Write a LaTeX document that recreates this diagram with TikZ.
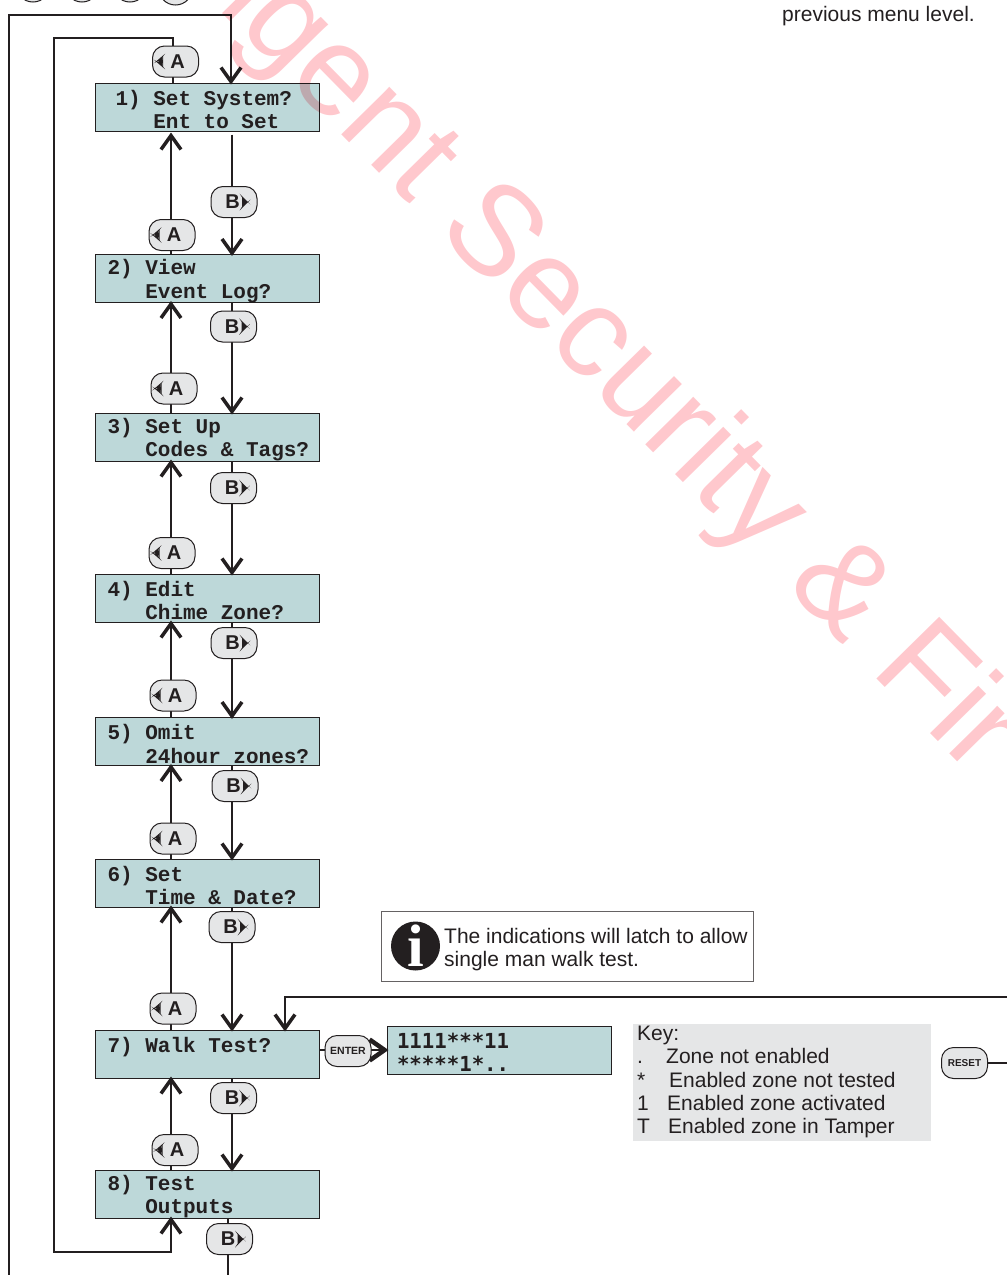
\documentclass[tikz,border=0pt]{standalone}
\usepackage{fontspec}
\setmainfont{Liberation Sans}
\newfontfamily\lcdfont{Liberation Mono}
\newfontfamily\readfont{DejaVu Sans Mono}
\usetikzlibrary{arrows.meta}
\definecolor{ink}{HTML}{231F20}
\definecolor{lcdblue}{HTML}{BDD8D9}
\definecolor{keygrey}{HTML}{E5E6E7}
\definecolor{markpink}{HTML}{FFC8CD}
\newcommand{\gap}{\hspace*{12.6pt}}
\tikzset{
    lcdbox/.style={draw=ink,fill=lcdblue,line width=1pt,inner xsep=12pt,inner ysep=0pt,text width=200pt,minimum height=48pt,align=left,text=ink,font=\lcdfont\bfseries\fontsize{21}{23.5}\selectfont,execute at begin node={\rule{0pt}{20pt}}},
    keybox/.style={draw=ink,fill=keygrey,line width=1pt,rounded corners=12pt,minimum width=46pt,minimum height=31pt,inner sep=0pt,text=ink},
    keya/.style={keybox,font=\bfseries\fontsize{20}{20}\selectfont,path picture={\fill[ink] ([xshift=-19.5pt]path picture bounding box.center) -- ++(7,-6) -- ++(0,12) -- cycle;}},
    keyb/.style={keybox,font=\bfseries\fontsize{20}{20}\selectfont,path picture={\fill[ink] ([xshift=14pt]path picture bounding box.center) -- ++(-6,-6) -- ++(0,12) -- cycle;}},
    keysmall/.style={keybox,font=\bfseries\fontsize{10.5}{10.5}\selectfont},
    flow/.style={draw=ink,line width=2pt,shorten >=-2pt,-{Straight Barb[length=14pt,width=20pt,line width=3.5pt]}},
    wire/.style={draw=ink,line width=2pt},
    plain/.style={text=ink,font=\fontsize{21}{23.3}\selectfont,inner sep=0pt,align=left}
}
\begin{document}
\begin{tikzpicture}[x=1pt,y=-1pt]
    \useasboundingbox (0,0) rectangle (1007,1275);
    \clip (0,0) rectangle (1007,1275);
    % columns of the up and down arrows
    \coordinate (upx) at (171,0);
    \coordinate (downx) at (232,0);
    % free ends at the page edge
    \coordinate (outerend) at (9,1280);
    \coordinate (outerleft) at (9,15);
    \coordinate (outerright) at (231,15);
    \coordinate (innerleft) at (54,38);
    \coordinate (innertop) at (172.5,38);
    \coordinate (innerlow) at (54,1252);
    \coordinate (resetend) at (1012,1063);
    \coordinate (walkfar) at (1012,997);
    \coordinate (walkin) at (285,997);
    \coordinate (lastend) at (227.5,1280);
    % top row of round keys
    \node[draw=ink,fill=keygrey,line width=1pt,circle,minimum size=34pt] (topa) at (33,-15) {};
    \node[draw=ink,fill=keygrey,line width=1pt,circle,minimum size=34pt] (topb) at (82,-15) {};
    \node[draw=ink,fill=keygrey,line width=1pt,circle,minimum size=34pt] (topc) at (130,-15) {};
    \node[draw=ink,fill=keygrey,line width=1pt,circle,minimum size=34pt] (topd) at (175.5,-12) {};
    % displays
    \node[lcdbox] (lcdOne) at (207.5,107) {\hspace*{8pt}1)\gap Set\gap System?\\\hspace*{8pt}\gap\gap\gap Ent\gap to\gap Set};
    \node[lcdbox] (lcdTwo) at (207.5,278.5) {2)\gap View\\\gap\gap\gap Event\gap Log?};
    \node[lcdbox] (lcdThree) at (207.5,437) {3)\gap Set\gap Up\\\gap\gap\gap Codes\gap\&\gap Tags?};
    \node[lcdbox] (lcdFour) at (207.5,598) {4)\gap Edit\\\gap\gap\gap Chime\gap Zone?};
    \node[lcdbox] (lcdFive) at (207.5,741.5) {5)\gap Omit\\\gap\gap\gap 24hour\gap zones?};
    \node[lcdbox] (lcdSix) at (207.5,883) {6)\gap Set\\\gap\gap\gap Time\gap\&\gap Date?};
    \node[lcdbox] (lcdSeven) at (207.5,1054) {7)\gap Walk\gap Test?\\~};
    \node[lcdbox] (lcdEight) at (207.5,1194) {8)\gap Test\\\gap\gap\gap Outputs};
    \node[lcdbox,font=\readfont\bfseries\fontsize{20.7}{23.5}\selectfont,inner xsep=10pt,text width=204pt] (lcdWalk) at (499,1050) {1111***11\\{}*****1*..};
    % arrows between displays
    \draw[flow,shorten <=3pt] (lcdOne.south -| downx) -- (lcdTwo.north -| downx);
    \draw[flow] (lcdTwo.south -| downx) -- (lcdThree.north -| downx);
    \draw[flow] (lcdThree.south -| downx) -- (lcdFour.north -| downx);
    \draw[flow] (lcdFour.south -| downx) -- (lcdFive.north -| downx);
    \draw[flow] (lcdFive.south -| downx) -- (lcdSix.north -| downx);
    \draw[flow] (lcdSix.south -| downx) -- (lcdSeven.north -| downx);
    \draw[flow] (lcdSeven.south -| downx) -- (lcdEight.north -| downx);
    \draw[flow,shorten >=1pt] (lcdTwo.north -| upx) -- (lcdOne.south -| upx);
    \draw[flow] (lcdThree.north -| upx) -- (lcdTwo.south -| upx);
    \draw[flow] (lcdFour.north -| upx) -- (lcdThree.south -| upx);
    \draw[flow] (lcdFive.north -| upx) -- (lcdFour.south -| upx);
    \draw[flow] (lcdSix.north -| upx) -- (lcdFive.south -| upx);
    \draw[flow] (lcdSeven.north -| upx) -- (lcdSix.south -| upx);
    \draw[flow] (lcdEight.north -| upx) -- (lcdSeven.south -| upx);
    % the two long loops
    \draw[flow] (outerend) -- (outerleft) -- (outerright) -- (lcdOne.north -| outerright);
    \draw[flow] (lcdOne.north -| innertop) -- (innertop) -- (innerleft) -- (innerlow) -- (innerlow -| upx) -- (lcdEight.south -| upx);
    \draw[wire] (lcdEight.south -| lastend) -- (lastend);
    \draw[flow] (walkfar) -- (walkin) -- (lcdSeven.north -| walkin);
    % keys on the arrows
    \node[keya] (keyAOne) at (175.5,61.5) {\hspace*{4pt}A};
    \node[keya] (keyATwo) at (172,235) {\hspace*{4pt}A};
    \node[keya] (keyAThree) at (174,388.5) {\hspace*{4pt}A};
    \node[keya] (keyAFour) at (172,553) {\hspace*{4pt}A};
    \node[keya] (keyAFive) at (173,695.5) {\hspace*{4pt}A};
    \node[keya] (keyASix) at (173,838.5) {\hspace*{4pt}A};
    \node[keya] (keyASeven) at (173,1008.5) {\hspace*{4pt}A};
    \node[keya] (keyAEight) at (175,1150) {\hspace*{4pt}A};
    \node[keyb] (keyBOne) at (234,202) {B\hspace*{3pt}};
    \node[keyb] (keyBTwo) at (233.5,326.5) {B\hspace*{3pt}};
    \node[keyb] (keyBThree) at (233.5,488) {B\hspace*{3pt}};
    \node[keyb] (keyBFour) at (234,643) {B\hspace*{3pt}};
    \node[keyb] (keyBFive) at (235,786) {B\hspace*{3pt}};
    \node[keyb] (keyBSix) at (232,927) {B\hspace*{3pt}};
    \node[keyb] (keyBSeven) at (233.5,1098) {B\hspace*{3pt}};
    \node[keyb] (keyBEight) at (229.5,1239) {B\hspace*{3pt}};
    % enter and reset
    \draw[flow,-{Straight Barb[length=15pt,width=21pt,line width=4.5pt]}] (lcdSeven.east |- lcdWalk) -- (lcdWalk.west);
    \node[keysmall] (keyEnter) at (348,1051) {ENTER};
    \node[keysmall,font=\bfseries\fontsize{10}{10}\selectfont] (keyReset) at (964.5,1063) {RESET};
    \draw[wire] (keyReset.east) -- (resetend);
    % note and key
    \node[draw=ink!70,line width=1pt,minimum width=372pt,minimum height=70pt,inner sep=0pt] (notebox) at (567,946) {};
    \node[circle,fill=ink,minimum size=49pt,inner sep=0pt,text=white,font=\fontspec{Liberation Serif}\bfseries\fontsize{60}{60}\selectfont] (noteicon) at (415.5,946) {i};
    \node[plain,anchor=west] (notetext) at (444,949.5) {The indications will latch to allow\\single man walk test.};
    \node[fill=keygrey,minimum width=298pt,minimum height=117pt,inner sep=0pt] (keypanel) at (782,1082.5) {};
    \node[plain,anchor=north west] (keytext) at (637,1026) {Key:\\\makebox[29pt][l]{.}Zone not enabled\\\makebox[32pt][l]{*}Enabled zone not tested\\\makebox[30pt][l]{1}Enabled zone activated\\\makebox[31pt][l]{T}Enabled zone in Tamper};
    \node[plain,anchor=base west] (menutext) at (782,21.5) {previous menu level.};
    % watermark
    \begin{scope}[blend mode=multiply]
        \node[rotate=-45.5,anchor=base west,inner sep=0pt,text=markpink,font=\fontsize{128}{128}\selectfont] (watermark) at (216,7) {igent Security \& Fir};
    \end{scope}
\end{tikzpicture}
\end{document}
